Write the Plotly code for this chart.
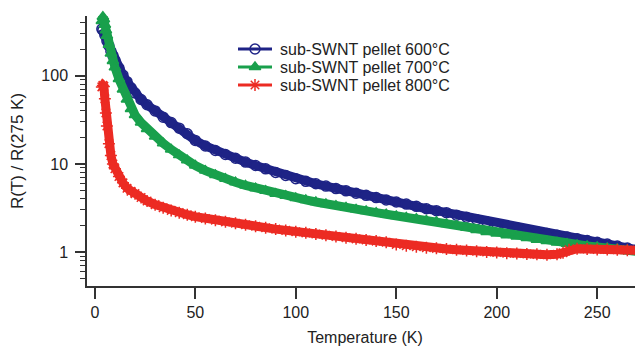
import plotly.graph_objects as go

# ---- data ----
t_600 = [3.5, 4, 5, 6, 7, 8, 9, 10, 12, 14, 16, 18, 20, 23, 26, 30, 34, 38, 42, 46, 50,
         55, 60, 65, 70, 75, 80, 85, 90, 95, 100, 105, 110, 115, 120, 125, 130, 135, 140,
         145, 150, 155, 160, 165, 170, 175, 180, 185, 190, 195, 200, 205, 210, 215, 220,
         225, 230, 235, 240, 245, 250, 255, 260, 265, 270, 273]
r_600 = [340, 330, 290, 250, 220, 190, 170, 150, 123, 102, 86, 73, 64, 54, 47, 40, 34, 29.5, 25.5, 22, 18.5,
         16, 14.2, 12.8, 11.6, 10.5, 9.6, 8.8, 8.0, 7.4, 6.8, 6.35, 5.95, 5.6, 5.25, 4.95, 4.65, 4.4, 4.15,
         3.9, 3.7, 3.5, 3.3, 3.1, 2.95, 2.8, 2.62, 2.48, 2.33, 2.2, 2.08, 1.98, 1.88, 1.78, 1.7,
         1.62, 1.55, 1.48, 1.41, 1.35, 1.29, 1.23, 1.17, 1.11, 1.06, 1.03]

t_700 = [3.5, 4, 4.5, 5, 5.5, 6, 7, 8, 9, 10, 12, 14, 16, 18, 20, 23, 26, 30, 34, 38, 42, 46, 50,
         55, 60, 65, 70, 75, 80, 85, 90, 95, 100, 105, 110, 115, 120, 125, 130, 135, 140,
         145, 150, 155, 160, 165, 170, 175, 180, 185, 190, 195, 200, 205, 210, 215, 220,
         225, 230, 235, 240, 245, 250, 255, 260, 265, 270, 273]
r_700 = [420, 470, 440, 380, 330, 285, 225, 180, 148, 125, 92, 70, 54, 42, 36, 29.5, 25, 20.5, 17.2, 14.6, 12.6, 11, 9.6,
         8.4, 7.5, 6.8, 6.2, 5.7, 5.3, 4.95, 4.6, 4.35, 4.1, 3.9, 3.7, 3.5, 3.35, 3.2, 3.05, 2.92, 2.8,
         2.68, 2.57, 2.47, 2.38, 2.28, 2.2, 2.08, 2.0, 1.88, 1.78, 1.69, 1.62, 1.55, 1.5, 1.44, 1.38,
         1.33, 1.28, 1.24, 1.2, 1.17, 1.14, 1.11, 1.08, 1.05, 1.02, 1.0]

t_800 = [3.5, 4, 4.5, 5, 5.5, 6, 7, 8, 9, 10, 12, 14, 16, 18, 20, 23, 26, 30, 34, 38, 42, 46, 50,
         55, 60, 65, 70, 75, 80, 85, 90, 95, 100, 105, 110, 115, 120, 125, 130, 135, 140,
         145, 150, 155, 160, 165, 170, 175, 180, 185, 190, 195, 200, 205, 210, 215, 220,
         225, 230, 233, 236, 240, 245, 250, 255, 260, 265, 270, 273]
r_800 = [75, 78, 76, 55, 38, 27, 17, 12.5, 10, 8.8, 7.2, 6.1, 5.3, 4.9, 4.6, 4.15, 3.8, 3.45, 3.18, 2.97, 2.8, 2.65, 2.52,
         2.4, 2.3, 2.2, 2.12, 2.04, 1.96, 1.89, 1.82, 1.76, 1.7, 1.65, 1.6, 1.55, 1.5, 1.45, 1.41, 1.37, 1.33,
         1.29, 1.22, 1.18, 1.15, 1.12, 1.1, 1.08, 1.06, 1.04, 1.02, 1.0, 0.99, 0.97, 0.96, 0.95, 0.94,
         0.93, 0.94, 0.98, 1.06, 1.09, 1.08, 1.07, 1.07, 1.06, 1.05, 1.05, 1.04]

labels = ["sub-SWNT pellet 600°C", "sub-SWNT pellet 700°C", "sub-SWNT pellet 800°C"]
x_ticks = [0, 50, 100, 150, 200, 250]
y_ticks = [1, 10, 100]
y_ticktext = ["1", "10", "100"]
y_minor = [0.4, 0.5, 0.6, 0.7, 0.8, 0.9, 2, 3, 4, 5, 6, 7, 8, 9,
           20, 30, 40, 50, 60, 70, 80, 90, 200, 300, 400]

colors = ["#1e2386", "#19a04c", "#ec2b23"]
symbols = ["circle-open", "triangle-up", "asterisk-open"]

# page has an 8px body margin; plot area in figure pixels
PL, PR, PT, PB = 79, 635, 8, 278
W, H = 643, 347

fig = go.Figure()
series = [(t_600, r_600), (t_700, r_700), (t_800, r_800)]
for (t, r), lab, c, s in zip(series, labels, colors, symbols):
    fig.add_trace(go.Scatter(
        x=t, y=r, mode="lines+markers", name=lab, showlegend=False,
        line=dict(color=c, width=9),
        marker=dict(symbol=s, size=10, color=c, line=dict(color=c, width=1.5)),
        cliponaxis=False,
    ))

# legend drawn in an overlay pixel-space axis (x2/y2)
leg_line_x = [230, 264]
leg_mark_x = 247
leg_text_x = 271
leg_rows = [41, 59, 77]
for lab, c, s, yy in zip(labels, colors, symbols, leg_rows):
    fig.add_trace(go.Scatter(
        x=leg_line_x, y=[yy, yy], xaxis="x2", yaxis="y2", mode="lines",
        line=dict(color=c, width=3), showlegend=False, hoverinfo="skip",
    ))
    fig.add_trace(go.Scatter(
        x=[leg_mark_x], y=[yy], xaxis="x2", yaxis="y2", mode="markers",
        marker=dict(symbol=s, size=10, color=c, line=dict(color=c, width=1.5)),
        showlegend=False, hoverinfo="skip",
    ))
    fig.add_annotation(x=leg_text_x, y=yy, xref="x2", yref="y2", text=lab,
                       showarrow=False, xanchor="left", yanchor="middle",
                       borderpad=0, font=dict(size=16, color="#222222"))

axis_col = "#333333"
fig.update_layout(
    width=W, height=H,
    margin=dict(l=PL, r=W - PR, t=PT, b=H - PB, autoexpand=False),
    paper_bgcolor="white", plot_bgcolor="white",
    font=dict(family="Liberation Sans, Arial, sans-serif", color="#222222", size=15),
    showlegend=False,
    xaxis=dict(
        range=[-3.9, 272.8], tickvals=x_ticks, ticks="outside", ticklen=11, tickwidth=1.5,
        tickcolor=axis_col, showline=True, linecolor=axis_col, linewidth=1.5,
        showgrid=False, zeroline=False, tickfont=dict(size=16), automargin=False,
        title=dict(text="Temperature (K)", font=dict(size=16), standoff=12),
    ),
    yaxis=dict(
        type="log", range=[-0.386, 2.68], tickvals=y_ticks, ticktext=y_ticktext,
        ticks="outside", ticklen=10, tickwidth=1.5, tickcolor=axis_col,
        showline=True, linecolor=axis_col, linewidth=1.5, showgrid=False, zeroline=False,
        tickfont=dict(size=16), automargin=False, ticklabelstandoff=4,
        minor=dict(tickvals=y_minor, ticks="outside", ticklen=5, tickwidth=1.2,
                   tickcolor=axis_col, showgrid=False),
        title=dict(text="R(T) / R(275 K)", font=dict(size=17), standoff=15),
    ),
    xaxis2=dict(overlaying="x", range=[PL, PR], visible=False, fixedrange=True),
    yaxis2=dict(overlaying="y", range=[PB, PT], visible=False, fixedrange=True),
)

fig.write_html("out.html")
